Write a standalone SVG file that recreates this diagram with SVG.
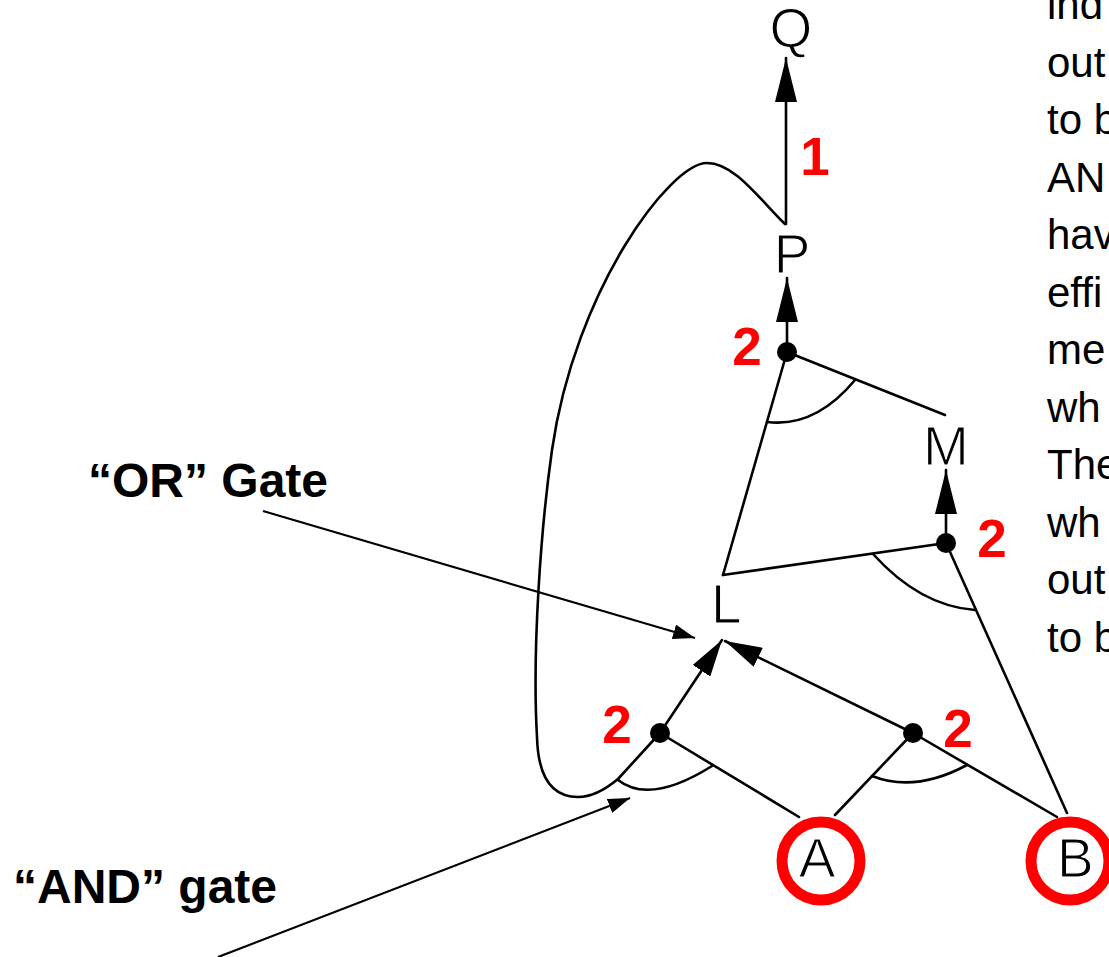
<svg xmlns="http://www.w3.org/2000/svg" width="1109" height="957" viewBox="0 0 1109 957">
<style>
.node{font-family:"Liberation Sans",Arial,sans-serif;font-size:55px;fill:#000;stroke:#fff;stroke-width:1.2px;paint-order:normal}
.num{font-family:"Liberation Sans",Arial,sans-serif;font-size:53px;font-weight:bold;fill:#f00;text-anchor:middle}
.ann{font-family:"Liberation Sans",Arial,sans-serif;font-size:48px;font-weight:bold;fill:#000}
.side{font-family:"Liberation Sans",Arial,sans-serif;font-size:42px;fill:#000}
.ln{fill:none;stroke:#000;stroke-width:2.6;stroke-linecap:round;stroke-linejoin:round}
.aln{fill:none;stroke:#000;stroke-width:2.2}
.dot{fill:#000}
.ring{fill:#fff;stroke:#f00;stroke-width:11}
</style>
<defs>
<marker id="ahBig" markerUnits="userSpaceOnUse" viewBox="0 0 44 22" markerWidth="44" markerHeight="22" refX="44" refY="11" orient="auto">
<path d="M0,0 L44,11 L0,22 z" fill="#000"/>
</marker>
<marker id="ahMid" markerUnits="userSpaceOnUse" viewBox="0 0 37 21" markerWidth="37" markerHeight="21" refX="37" refY="10.5" orient="auto">
<path d="M0,0 L37,10.5 L0,21 z" fill="#000"/>
</marker>
<marker id="ahSmall" markerUnits="userSpaceOnUse" viewBox="0 0 22 15" markerWidth="22" markerHeight="15" refX="22" refY="7.5" orient="auto">
<path d="M0,0 L22,7.5 L0,15 z" fill="#000"/>
</marker>
</defs>
<rect x="0" y="0" width="1109" height="957" fill="#fff"/>

<g id="connectors">
<line class="ln" x1="786" y1="224" x2="786" y2="58" marker-end="url(#ahBig)"/>
<line class="ln" x1="787" y1="352" x2="787" y2="278" marker-end="url(#ahBig)"/>
<line class="ln" x1="946" y1="543" x2="946" y2="470" marker-end="url(#ahBig)"/>
<line class="ln" x1="787" y1="352" x2="723" y2="575"/>
<line class="ln" x1="787" y1="352" x2="945" y2="415"/>
<line class="ln" x1="946" y1="543" x2="723" y2="575"/>
<line class="ln" x1="946" y1="543" x2="1067" y2="813"/>
<line class="ln" x1="660" y1="733" x2="722" y2="640" marker-end="url(#ahMid)"/>
<line class="ln" x1="913" y1="733" x2="725" y2="641" marker-end="url(#ahMid)"/>
<line class="ln" x1="660" y1="733" x2="799" y2="817"/>
<line class="ln" x1="913" y1="733" x2="835" y2="815"/>
<line class="ln" x1="913" y1="733" x2="1057" y2="817"/>
<path class="ln" d="M785,224 C760,200 735,163 707,163 C670,163 575,290 552,450 C541,527 532,650 537,737 C538,775 550,797 578,797 C592,797 606,789 618,779 L660,733"/>
</g>

<g id="gate-P">
<path class="ln" d="M767,422 Q815,428 855,380"/>
<circle class="dot" cx="787" cy="352" r="10"/>
<text class="num" x="747" y="365">2</text>
</g>
<g id="gate-M">
<path class="ln" d="M873,554 Q920,606 975,610"/>
<circle class="dot" cx="946" cy="543" r="10"/>
<text class="num" x="992" y="557">2</text>
</g>
<g id="gate-left">
<path class="ln" d="M618,780 Q650,805 712,766"/>
<circle class="dot" cx="660" cy="733" r="10"/>
<text class="num" x="617" y="743">2</text>
</g>
<g id="gate-right">
<path class="ln" d="M872,776 Q915,793 967,765"/>
<circle class="dot" cx="913" cy="733" r="10"/>
<text class="num" x="958" y="747">2</text>
</g>
<g id="label-1">
<text class="num" x="815" y="175">1</text>
</g>

<g id="node-Q"><text class="node" x="791" y="47" text-anchor="middle">Q</text></g>
<g id="node-P"><text class="node" x="792" y="273" text-anchor="middle">P</text></g>
<g id="node-M"><text class="node" x="946" y="465" text-anchor="middle">M</text></g>
<g id="node-L"><text class="node" x="711" y="623">L</text></g>
<g id="node-A">
<circle class="ring" cx="821" cy="861" r="39"/>
<text class="node" x="817" y="877" text-anchor="middle">A</text>
</g>
<g id="node-B">
<circle class="ring" cx="1070" cy="861" r="39"/>
<text class="node" x="1057" y="877">B</text>
</g>

<g id="annotations">
<text class="ann" x="88" y="497">“OR” Gate</text>
<line class="aln" x1="263" y1="511" x2="695" y2="638" marker-end="url(#ahSmall)"/>
<text class="ann" x="13" y="903">“AND” gate</text>
<line class="aln" x1="218" y1="957" x2="630" y2="798" marker-end="url(#ahSmall)"/>
</g>

<g id="side-text" class="side">
<text x="1047" y="19">ind</text>
<text x="1047" y="76.5">out</text>
<text x="1047" y="134">to b</text>
<text x="1047" y="191.5">AN</text>
<text x="1047" y="249">hav</text>
<text x="1047" y="306.5">effi</text>
<text x="1047" y="364">me</text>
<text x="1047" y="421.5">wh</text>
<text x="1047" y="479">The</text>
<text x="1047" y="536.5">wh</text>
<text x="1047" y="594">out</text>
<text x="1047" y="651.5">to b</text>
</g>
</svg>
